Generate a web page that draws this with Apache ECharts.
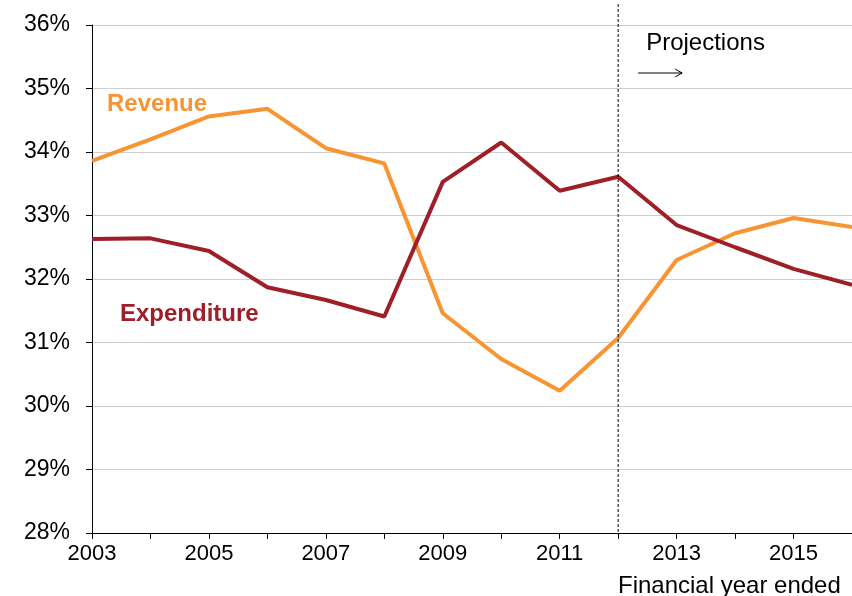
<!DOCTYPE html>
<html>
<head>
<meta charset="utf-8">
<script src="https://cdn.jsdelivr.net/npm/echarts@6/dist/echarts.min.js"></script>
<style>
  html, body { margin: 0; padding: 0; background: #fff; }
  #chart { width: 852px; height: 596px; }
</style>
</head>
<body>
<div id="chart"></div>
<script>
// financial years
let years = ["2003", "2004", "2005", "2006", "2007", "2008", "2009",
  "2010", "2011", "2012", "2013", "2014", "2015", "2016"];
// % of GDP
let revenue = [33.86, 34.2, 34.56, 34.68, 34.06, 33.82, 31.46,
  30.74, 30.24, 31.07, 32.3, 32.72, 32.96, 32.82];
let expenditure = [32.63, 32.64, 32.44, 31.87, 31.67, 31.41, 33.53,
  34.15, 33.39, 33.61, 32.85, 32.5, 32.16, 31.91];
let projectionStart = "2012";

let font = "'Liberation Sans', Arial, sans-serif";
let chart = echarts.init(document.getElementById("chart"));

let option = {
  animation: false,
  grid: { left: 92, right: -2, top: 25, bottom: 63 },
  xAxis: {
    type: "category",
    data: years,
    boundaryGap: false,
    axisLine: { lineStyle: { color: "#000", width: 1 } },
    axisTick: { show: true, length: 6, interval: 0, lineStyle: { color: "#000" } },
    axisLabel: {
      interval: 1,
      color: "#000",
      fontSize: 22,
      fontFamily: font,
      margin: 10,
    },
    splitLine: { show: false },
  },
  yAxis: {
    type: "value",
    min: 28,
    max: 36,
    interval: 1,
    axisLine: { show: true, lineStyle: { color: "#000", width: 1 } },
    axisTick: { show: true, length: 6, lineStyle: { color: "#000" } },
    axisLabel: {
      color: "#000",
      fontSize: 23,
      fontFamily: font,
      margin: 22,
      formatter: "{value}%",
    },
    splitLine: { lineStyle: { color: "#cfcfcf", width: 1 } },
  },
  series: [
    {
      name: "Revenue",
      type: "line",
      data: revenue,
      symbol: "none",
      lineStyle: { color: "#F79433", width: 4 },
      itemStyle: { color: "#F79433" },
      z: 3,
    },
    {
      name: "Expenditure",
      type: "line",
      data: expenditure,
      symbol: "none",
      lineStyle: { color: "#9E1F27", width: 4 },
      itemStyle: { color: "#9E1F27" },
      z: 4,
    },
  ],
};
chart.setOption(option);

// projection divider + annotations
let px = chart.convertToPixel({ xAxisIndex: 0 }, projectionStart);
let yBottom = chart.convertToPixel({ yAxisIndex: 0 }, 28);
chart.setOption({
  graphic: [
    {
      type: "line",
      shape: { x1: px, y1: 4, x2: px, y2: yBottom },
      style: { stroke: "#000", lineWidth: 1, lineDash: [3, 2] },
      z: 10,
    },
    {
      type: "text",
      left: px + 28,
      top: 31,
      style: { text: "Projections", fill: "#000", fontSize: 24, fontFamily: font },
    },
    {
      type: "line",
      shape: { x1: px + 20, y1: 73, x2: px + 64, y2: 73 },
      style: { stroke: "#000", lineWidth: 1 },
    },
    {
      type: "polyline",
      shape: { points: [[px + 57, 69], [px + 64, 73], [px + 57, 77]] },
      style: { stroke: "#000", lineWidth: 1, fill: null },
    },
    {
      type: "text",
      left: 107,
      top: 92,
      style: { text: "Revenue", fill: "#F79433", fontSize: 24, fontWeight: "bold", fontFamily: font },
    },
    {
      type: "text",
      left: 120,
      top: 302,
      style: { text: "Expenditure", fill: "#9E1F27", fontSize: 24, fontWeight: "bold", fontFamily: font },
    },
    {
      type: "text",
      left: 618,
      top: 574,
      style: { text: "Financial year ended", fill: "#000", fontSize: 24, fontFamily: font },
    },
  ],
});
</script>
</body>
</html>
